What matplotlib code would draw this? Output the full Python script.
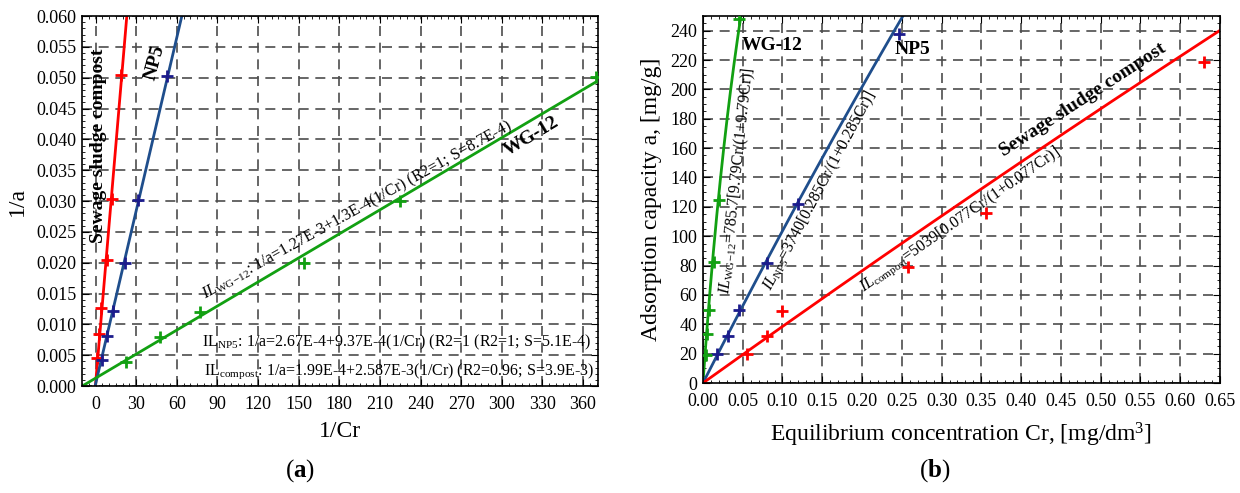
import numpy as np
import matplotlib
matplotlib.use("Agg")
import matplotlib.pyplot as plt
from matplotlib.ticker import MultipleLocator, AutoMinorLocator

# panel (a): linearised Langmuir, 1/a vs 1/Cr
inv_cr_compost = [1.2, 2.4, 3.7, 8.6, 12.3, 19.0]
inv_a_compost = [0.0045, 0.0085, 0.0126, 0.0204, 0.0304, 0.0504]
inv_cr_np5 = [4.9, 8.6, 12.8, 22.1, 31.5, 52.9]
inv_a_np5 = [0.0042, 0.0081, 0.0122, 0.0200, 0.0302, 0.0502]
inv_cr_wg = [22.3, 47.5, 77.5, 153.7, 225.0, 369.5]
inv_a_wg = [0.0039, 0.0080, 0.0120, 0.0199, 0.0300, 0.0501]

# fitted lines (intercept, slope) as printed on the chart
lin_compost = (1.99e-4, 2.587e-3)
lin_np5 = (2.67e-4, 9.37e-4)
lin_wg = (1.27e-3, 1.3e-4)

# panel (b): a vs Cr
cr_compost = [0.055, 0.081, 0.099, 0.258, 0.356, 0.630]
a_compost = [19.5, 32.2, 49.0, 79.3, 115.6, 218.5]
cr_np5 = [0.018, 0.032, 0.045, 0.080, 0.120, 0.246]
a_np5 = [19.5, 32.2, 49.5, 81.5, 121.7, 237.7]
cr_wg = [0.0034, 0.0054, 0.0080, 0.0138, 0.0205, 0.045]
a_wg = [19.0, 33.2, 49.7, 82.6, 124.5, 248.0]

# Langmuir parameters (qmax, K) as printed on the chart
lang_compost = (5039, 0.077)
lang_np5 = (3740, 0.285)
lang_wg = (785.7, 9.79)

RED = "#ff0000"
BLUE = "#1f4e8c"
BLUE_M = "#1c1c8c"
GREEN = "#12a012"

plt.rcParams["font.family"] = ["Liberation Serif", "DejaVu Serif"]
plt.rcParams["mathtext.fontset"] = "custom"
plt.rcParams["mathtext.rm"] = "Liberation Serif"
plt.rcParams["mathtext.it"] = "Liberation Serif:italic"
plt.rcParams["mathtext.bf"] = "Liberation Serif:bold"

fig = plt.figure(figsize=(12.4, 4.93), dpi=100)
ax1 = fig.add_axes([0.0661, 0.2170, 0.4161, 0.7505])
ax2 = fig.add_axes([0.5669, 0.2231, 0.4169, 0.7444])


def style(ax):
    ax.grid(True, which="major", color="#4d4d4d", linestyle=(0, (6, 4)), linewidth=1.2)
    ax.tick_params(which="both", direction="in", top=True, right=True, labelsize=13)
    ax.tick_params(which="major", length=5)
    ax.tick_params(which="minor", length=2.5)
    ax.tick_params(axis="x", pad=7)
    ax.tick_params(axis="y", pad=4)
    for s in ax.spines.values():
        s.set_linewidth(1.2)


mk = dict(linestyle="none", marker="+", markersize=8, markeredgewidth=2, zorder=4)

# ---- (a)
xl = np.linspace(0, 30, 50)
ax1.plot(xl, lin_compost[0] + lin_compost[1] * xl, color=RED, lw=2)
xl = np.linspace(0, 70, 50)
ax1.plot(xl, lin_np5[0] + lin_np5[1] * xl, color=BLUE, lw=2)
xl = np.linspace(-10, 371, 50)
ax1.plot(xl, lin_wg[0] + lin_wg[1] * xl, color=GREEN, lw=2)
ax1.plot(inv_cr_compost, inv_a_compost, color=RED, **mk)
ax1.plot(inv_cr_np5, inv_a_np5, color=BLUE_M, **mk)
ax1.plot(inv_cr_wg, inv_a_wg, color=GREEN, **mk)

ax1.set_xlim(-10, 371)
ax1.set_ylim(0, 0.06)
ax1.xaxis.set_major_locator(MultipleLocator(30))
ax1.xaxis.set_minor_locator(AutoMinorLocator(6))
ax1.yaxis.set_major_locator(MultipleLocator(0.005))
ax1.yaxis.set_minor_locator(AutoMinorLocator(5))
ax1.yaxis.set_major_formatter(matplotlib.ticker.FormatStrFormatter("%.3f"))
style(ax1)
ax1.set_xlabel("1/Cr", fontsize=17, labelpad=6)
ax1.set_ylabel("1/a", fontsize=17, labelpad=6)

ax1.text(2, 0.039, "Sewage sludge compost", rotation=90, fontsize=14,
         fontweight="bold", ha="center", va="center")
ax1.text(44, 0.0525, "NP5", rotation=75, fontsize=14, fontweight="bold",
         ha="center", va="center")
ax1.text(322, 0.0404, "WG-12", rotation=31, fontsize=14, fontweight="bold",
         ha="center", va="center")
ax1.text(193, 0.0285, r"$\mathit{IL}_{\mathrm{WG\!-\!12}}$: 1/a=1.27E-3+1.3E-4(1/Cr) (R2=1; S=8.7E-4)",
         rotation=29, fontsize=11.5, ha="center", va="center")
ax1.text(366, 0.0071, r"IL$_{\mathrm{NP5}}$: 1/a=2.67E-4+9.37E-4(1/Cr) (R2=1 (R2=1; S=5.1E-4)",
         fontsize=11.5, ha="right", va="center")
ax1.text(368, 0.0024, r"IL$_{\mathrm{compost}}$: 1/a=1.99E-4+2.587E-3(1/Cr) (R2=0.96; S=3.9E-3)",
         fontsize=11.5, ha="right", va="center")

# ---- (b)
cr = np.linspace(0, 0.65, 300)
for (qm, k), col in [(lang_wg, GREEN), (lang_np5, BLUE), (lang_compost, RED)]:
    ax2.plot(cr, qm * k * cr / (1 + k * cr), color=col, lw=2)
ax2.plot(cr_compost, a_compost, color=RED, **mk)
ax2.plot(cr_np5, a_np5, color=BLUE_M, **mk)
ax2.plot(cr_wg, a_wg, color=GREEN, **mk)

ax2.set_xlim(0, 0.65)
ax2.set_ylim(0, 250)
ax2.xaxis.set_major_locator(MultipleLocator(0.05))
ax2.xaxis.set_minor_locator(AutoMinorLocator(5))
ax2.yaxis.set_major_locator(MultipleLocator(20))
ax2.yaxis.set_minor_locator(AutoMinorLocator(4))
ax2.xaxis.set_major_formatter(matplotlib.ticker.FormatStrFormatter("%.2f"))
style(ax2)
ax2.set_xlabel(r"Equilibrium concentration Cr, [mg/dm$^3$]", fontsize=17, labelpad=8)
ax2.set_ylabel("Adsorption capacity a, [mg/g]", fontsize=17, labelpad=6)

ax2.text(0.049, 230, "WG-12", fontsize=14, fontweight="bold", ha="left", va="center")
ax2.text(0.241, 227, "NP5", fontsize=14, fontweight="bold", ha="left", va="center")
ax2.text(0.478, 193, "Sewage sludge compost", rotation=33, fontsize=14,
         fontweight="bold", ha="center", va="center")
ax2.text(0.043, 138, r"$\mathit{IL}_{\mathrm{WG\!-\!12}}$=785.7[9.79Cr/(1+9.79Cr)]",
         rotation=84, fontsize=11.5, ha="center", va="center")
ax2.text(0.147, 131, r"$\mathit{IL}_{\mathrm{NP5}}$=3740[0.285Cr/(1+0.285Cr)]",
         rotation=62, fontsize=11.5, ha="center", va="center")
ax2.text(0.323, 111, r"$\mathit{IL}_{\mathrm{compost}}$=5039[0.077Cr/(1+0.077Cr)]",
         rotation=35, fontsize=11.5, ha="center", va="center")

fig.text(0.242, 0.045, r"($\mathbf{a}$)", fontsize=18, ha="center", va="center")
fig.text(0.754, 0.045, r"($\mathbf{b}$)", fontsize=18, ha="center", va="center")

fig.savefig("out.png", dpi=100)
